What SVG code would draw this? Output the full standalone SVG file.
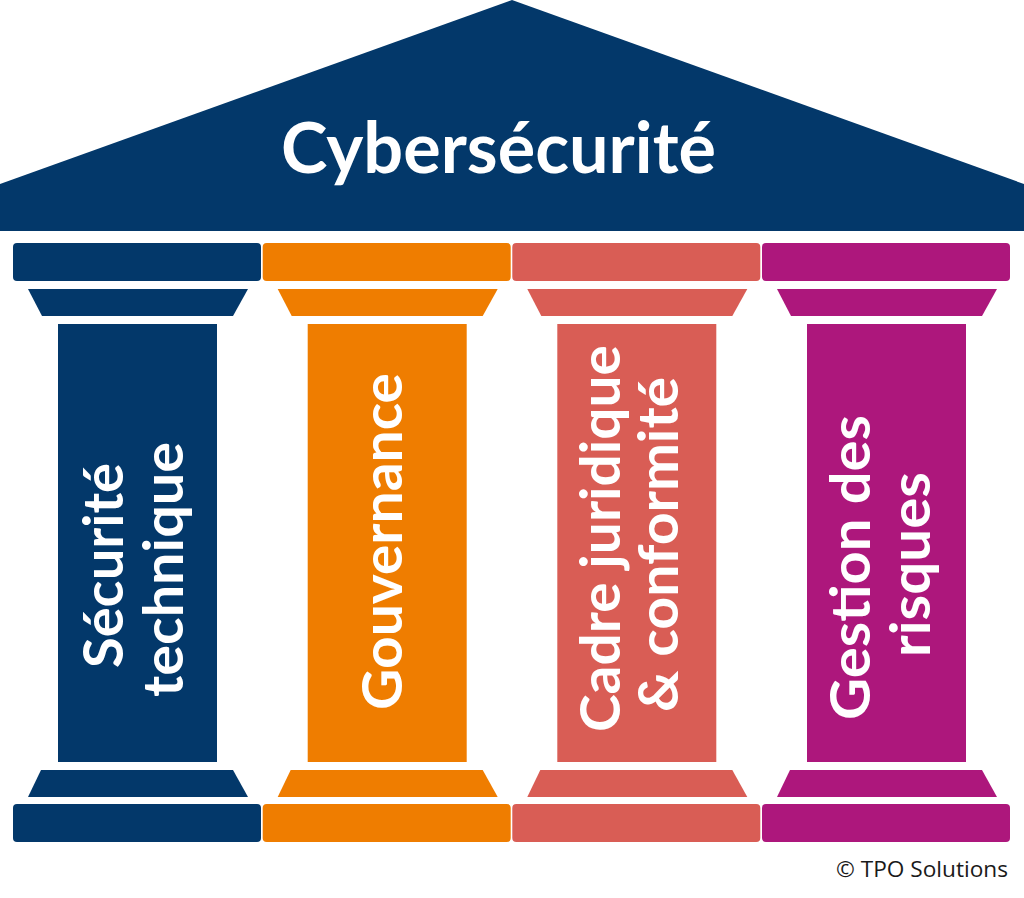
<svg xmlns="http://www.w3.org/2000/svg" width="1024" height="898" viewBox="0 0 1024 898">
<style>
.t{font-family:Lato,"Open Sans","Liberation Sans",sans-serif;font-weight:bold;fill:#fff;text-anchor:middle}
.c{font-size:56px}
.navy{fill:#03386A}.orange{fill:#EF7D00}.red{fill:#D95D55}.purple{fill:#AD177C}
</style>
<defs>
<g id="pillar">
<rect x="0" y="243" width="248" height="38" rx="4"/>
<polygon points="15,289 235,289 220,316 29,316"/>
<rect x="45" y="324" width="159" height="438"/>
<polygon points="28,770 220,770 235,797 15,797"/>
<rect x="0" y="804" width="248" height="38" rx="4"/>
</g>
</defs>
<rect width="1024" height="898" fill="#fff"/>
<g id="roof">
<polygon class="navy" points="0,184 512,0 1024,184 1024,231 0,231"/>
<text class="t" x="498.5" y="173" font-size="70" textLength="435" lengthAdjust="spacingAndGlyphs">Cybersécurité</text>
</g>
<g id="pillar1" class="navy">
<use href="#pillar" x="13"/>
<text class="t c" transform="translate(123,565.5) rotate(-90)" textLength="205" lengthAdjust="spacingAndGlyphs">Sécurité</text>
<text class="t c" transform="translate(183,569.5) rotate(-90)" textLength="255" lengthAdjust="spacingAndGlyphs">technique</text>
</g>
<g id="pillar2" class="orange">
<use href="#pillar" x="262.7"/>
<text class="t c" transform="translate(402,541.5) rotate(-90)" textLength="337" lengthAdjust="spacingAndGlyphs">Gouvernance</text>
</g>
<g id="pillar3" class="red">
<use href="#pillar" x="512.3"/>
<text class="t c" transform="translate(620,538.5) rotate(-90)" textLength="387" lengthAdjust="spacingAndGlyphs">Cadre juridique</text>
<text class="t c" transform="translate(678,544.5) rotate(-90)" textLength="335" lengthAdjust="spacingAndGlyphs">&amp; conformité</text>
</g>
<g id="pillar4" class="purple">
<use href="#pillar" x="762"/>
<text class="t c" transform="translate(870,567.5) rotate(-90)" textLength="305" lengthAdjust="spacingAndGlyphs">Gestion des</text>
<text class="t c" transform="translate(930,564.5) rotate(-90)" textLength="185" lengthAdjust="spacingAndGlyphs">risques</text>
</g>
<g id="connectors"/>
<text x="836" y="877" font-family="'Open Sans','Liberation Sans',sans-serif" font-size="22" fill="#1a1a1a" textLength="172" lengthAdjust="spacingAndGlyphs">© TPO Solutions</text>
</svg>
